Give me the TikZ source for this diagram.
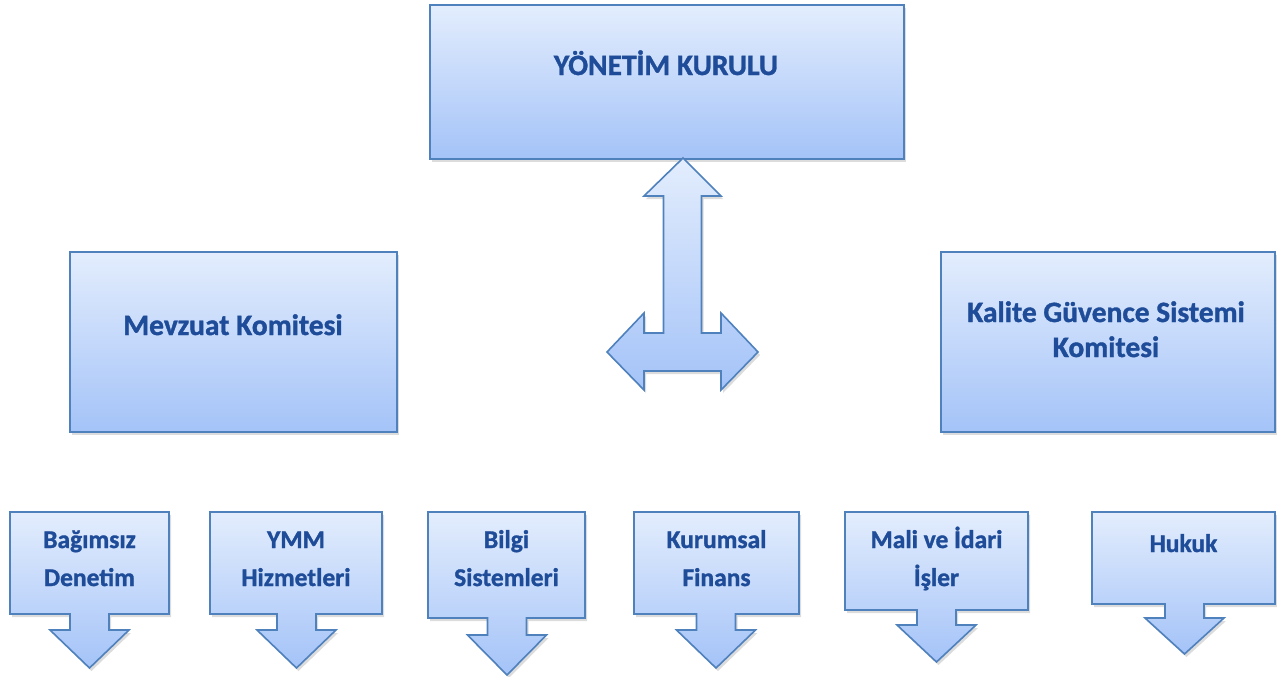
\documentclass[tikz,border=0pt]{standalone}
\usepackage{fontspec}
\setmainfont{Carlito}[BoldFeatures={FakeBold=1.2}]
\usetikzlibrary{shadows}
\definecolor{boxtop}{RGB}{227,237,253}
\definecolor{boxbot}{RGB}{164,195,248}
\definecolor{boxline}{RGB}{79,129,189}
\definecolor{txt}{RGB}{30,76,152}
\tikzset{
  panel/.style={draw=boxline, line width=1.6pt, line join=miter, top color=boxtop, bottom color=boxbot,
    drop shadow={opacity=0.28, shadow xshift=2pt, shadow yshift=-3pt}},
  bigtext/.style={font=\fontsize{29.5pt}{35pt}\selectfont\bfseries, text=txt, align=center, anchor=base, inner sep=0pt},
  smalltext/.style={font=\fontsize{25.5pt}{38pt}\selectfont\bfseries, text=txt, align=center, anchor=base, inner sep=0pt}
}
% #1 left, #2 top, #3 right, #4 bottom, #5 centre x, #6 head base y, #7 tip y
\newcommand{\downcallout}[7]{%
  \path[panel] (#1,#2) -- (#3,#2) -- (#3,#4) -- ({#5+19.5},#4) -- ({#5+19.5},#6) -- ({#5+39.5},#6)
    -- (#5,#7) -- ({#5-39.5},#6) -- ({#5-19.5},#6) -- ({#5-19.5},#4) -- (#1,#4) -- cycle;}
\begin{document}
\begin{tikzpicture}[x=1pt,y=-1pt]
\useasboundingbox (0,0) rectangle (1277,677);

% main boxes
\node[panel, anchor=north west, minimum width=474pt, minimum height=154pt, inner sep=0pt] (yk) at (429,4) {};
\node[panel, anchor=north west, minimum width=327pt, minimum height=180pt, inner sep=0pt] (mk) at (69,251) {};
\node[panel, anchor=north west, minimum width=334pt, minimum height=180pt, inner sep=0pt] (kg) at (940,251) {};

% double arrow
\path[panel] (683,158) -- (721,196) -- (701.5,196) -- (701.5,333) -- (721,333) -- (721,313) -- (758,352)
  -- (721,390) -- (721,371) -- (644,371) -- (644,390) -- (607,352) -- (644,313) -- (644,333)
  -- (663.5,333) -- (663.5,196) -- (644,196) -- cycle;

% bottom callouts
\downcallout{10}{512}{169}{614}{89.5}{630}{668}
\downcallout{210}{512}{382}{614}{296.5}{630}{668}
\downcallout{428}{512}{585}{618}{507}{635}{675}
\downcallout{634}{512}{799}{614}{716}{630}{668}
\downcallout{845}{512}{1028}{610}{936.5}{625}{662}
\downcallout{1092}{512}{1275}{604}{1184.5}{618}{654}

% texts (base anchor = baseline of the last line)
\node[bigtext] (tyk) at (666,75) {YÖNETİM KURULU};
\node[bigtext] (tmk) at (233,335) {Mevzuat Komitesi};
\node[bigtext] (tkg) at (1106,357) {Kalite Güvence Sistemi\\Komitesi};

\node[smalltext] (t1) at (89.5,586) {Bağımsız\\Denetim};
\node[smalltext] (t2) at (296,586) {YMM\\Hizmetleri};
\node[smalltext] (t3) at (506.5,586) {Bilgi\\Sistemleri};
\node[smalltext] (t4) at (716.5,586) {Kurumsal\\Finans};
\node[smalltext] (t5) at (936.5,586) {Mali ve İdari\\İşler};
\node[smalltext] (t6) at (1183.5,552) {Hukuk};
\end{tikzpicture}
\end{document}
